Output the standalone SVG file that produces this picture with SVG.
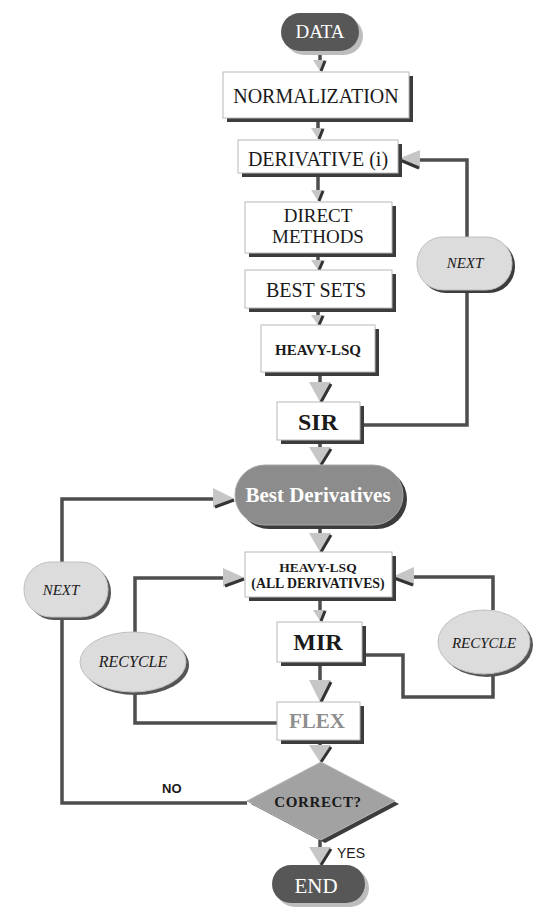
<svg xmlns="http://www.w3.org/2000/svg" width="535" height="908" viewBox="0 0 535 908">
<style>
.box{fill:#ffffff;stroke:#b8b8b8;stroke-width:1}
.sh{fill:#3c3c3c}
.t{font-family:"Liberation Serif","Times New Roman",serif;fill:#1a1a1a;text-anchor:middle}
.b{font-weight:bold}
.i{font-style:italic}
.w{fill:#ffffff}
.s{font-family:"Liberation Sans",Arial,sans-serif;fill:#1a1a1a;font-weight:bold}
.ln{fill:none;stroke:#4e4e4e;stroke-width:3.5;stroke-linejoin:miter}
.ah{fill:#c6c6c6}
.ad{fill:none;stroke:#333333;stroke-width:3}
.ov{fill:#dcdcdc;stroke:#c0c0c0;stroke-width:1}
</style>
<rect width="535" height="908" fill="#ffffff"/>

<g id="connectors">
  <!-- vertical shafts -->
  <path class="ln" d="M320 51V60 M318 118V128 M318 173V190 M318 253V260 M318 308V315 M320 372V382 M320 440V447 M320 525V533 M320 597V610 M320 662V680 M320 740V745 M320 840V847"/>
  <!-- down arrowheads small -->
  <path class="ah" d="M313 60H327L320 71Z M311 128H325L318 139Z M311 190H325L318 201Z M311 260H325L318 270Z M311 315H325L318 325Z M313 610H327L320 621Z"/>
  <path class="ad" d="M325 61L321 71 M323 129L319 139 M323 191L319 201 M323 261L319 270 M323 316L319 325 M325 611L321 621"/>
  <!-- down arrowheads large -->
  <path class="ah" d="M309 382H331L320 402Z M309 447H331L320 465Z M309 533H331L320 552Z M309 680H331L320 702Z M309 745H331L320 762Z M309 847H331L320 865Z"/>
  <path class="ad" d="M331 384L321 402 M331 449L321 465 M331 535L321 552 M331 682L321 702 M331 747L321 762 M331 849L321 865"/>

  <!-- SIR -> NEXT -> DERIVATIVE loop -->
  <path class="ln" d="M360 425H467V290 M467 237V160H420"/>
  <path class="ah" d="M420 150V169L398 159Z"/>
  <path class="ad" d="M419 168L400 160"/>

  <!-- CORRECT? NO -> NEXT -> Best Derivatives -->
  <path class="ln" d="M247 803H62V617 M62 562V499H214"/>
  <path class="ah" d="M213 488V508L235 499Z"/>
  <path class="ad" d="M215 507L234 500"/>

  <!-- FLEX -> RECYCLE -> HEAVY-LSQ (left) -->
  <path class="ln" d="M277 723H135V692 M135 632V578H224"/>
  <path class="ah" d="M223 568V587L245 578Z"/>
  <path class="ad" d="M225 586L244 579"/>

  <!-- MIR -> RECYCLE -> HEAVY-LSQ (right) -->
  <path class="ln" d="M362 655H403V697H493V674 M493 610V577H414"/>
  <path class="ah" d="M414 567V586L392 577Z"/>
  <path class="ad" d="M413 585L394 578"/>
</g>

<g id="data">
  <rect x="285" y="17" width="78" height="38" rx="19" fill="#bdbdbd"/>
  <rect x="281" y="13" width="78" height="38" rx="19" fill="#575757"/>
  <text class="t w" x="320" y="38" font-size="19">DATA</text>
</g>

<g id="normalization">
  <rect class="sh" x="227" y="76" width="186" height="46"/>
  <rect class="box" x="223" y="72" width="186" height="46"/>
  <text class="t" x="316" y="103" font-size="20">NORMALIZATION</text>
</g>

<g id="derivative">
  <rect class="sh" x="242" y="144" width="160" height="33"/>
  <rect class="box" x="238" y="140" width="160" height="33"/>
  <text class="t" x="318" y="166" font-size="20">DERIVATIVE (i)</text>
</g>

<g id="direct-methods">
  <rect class="sh" x="249" y="206" width="147" height="51"/>
  <rect class="box" x="245" y="202" width="147" height="51"/>
  <text class="t" x="318" y="222" font-size="19">DIRECT</text>
  <text class="t" x="318" y="243" font-size="19">METHODS</text>
</g>

<g id="best-sets">
  <rect class="sh" x="249" y="274" width="147" height="38"/>
  <rect class="box" x="245" y="270" width="147" height="38"/>
  <text class="t" x="316" y="297" font-size="20">BEST SETS</text>
</g>

<g id="heavy-lsq">
  <rect class="sh" x="265" y="329" width="114" height="47"/>
  <rect class="box" x="261" y="325" width="114" height="47"/>
  <text class="t b" x="318" y="355" font-size="15">HEAVY-LSQ</text>
</g>

<g id="sir">
  <rect class="sh" x="281" y="406" width="83" height="38"/>
  <rect class="box" x="277" y="402" width="83" height="38"/>
  <text class="t b" x="318" y="430" font-size="24">SIR</text>
</g>

<g id="next-right">
  <rect class="sh" x="420" y="240" width="95" height="53" rx="26" fill="#555555"/>
  <rect class="ov" x="417" y="237" width="95" height="53" rx="26"/>
  <text class="t i" x="465" y="268" font-size="15">NEXT</text>
</g>

<g id="best-derivatives">
  <rect x="239" y="469" width="168" height="60" rx="30" fill="#3c3c3c"/>
  <rect x="235" y="465" width="168" height="60" rx="30" fill="#8c8c8c" stroke="#a8a8a8"/>
  <text class="t b w" x="318" y="502" font-size="21">Best Derivatives</text>
</g>

<g id="heavy-lsq-all">
  <rect class="sh" x="249" y="556" width="147" height="45"/>
  <rect class="box" x="245" y="552" width="147" height="45"/>
  <text class="t b" x="318" y="572" font-size="13.5">HEAVY-LSQ</text>
  <text class="t b" x="318" y="588" font-size="13.8">(ALL DERIVATIVES)</text>
</g>

<g id="mir">
  <rect class="sh" x="281" y="626" width="85" height="40"/>
  <rect class="box" x="277" y="622" width="85" height="40"/>
  <text class="t b" x="318" y="650" font-size="24">MIR</text>
</g>

<g id="flex">
  <rect class="sh" x="281" y="706" width="83" height="38"/>
  <rect class="box" x="277" y="702" width="83" height="38"/>
  <text class="t b" x="317" y="728" font-size="21" fill="#8e8e8e" style="fill:#8e8e8e">FLEX</text>
</g>

<g id="next-left">
  <rect x="27" y="565" width="84" height="55" rx="27" fill="#555555"/>
  <rect class="ov" x="24" y="562" width="84" height="55" rx="27"/>
  <text class="t i" x="61" y="595" font-size="15">NEXT</text>
</g>

<g id="recycle-left">
  <ellipse cx="136" cy="665" rx="53" ry="30" fill="#555555"/>
  <ellipse class="ov" cx="133" cy="662" rx="53" ry="30"/>
  <text class="t i" x="133" y="667" font-size="16">RECYCLE</text>
</g>

<g id="recycle-right">
  <ellipse cx="487" cy="645" rx="46" ry="32" fill="#555555"/>
  <ellipse class="ov" cx="484" cy="642" rx="46" ry="32"/>
  <text class="t i" x="484" y="648" font-size="15">RECYCLE</text>
</g>

<g id="correct">
  <polygon points="325,765 399,804 325,843 251,804" fill="#3c3c3c"/>
  <polygon points="321,762 395,801 321,840 247,801" fill="#a2a2a2" stroke="#b5b5b5"/>
  <text class="t b" x="318" y="807" font-size="15" letter-spacing="0.6">CORRECT?</text>
</g>

<g id="labels">
  <text class="s" x="162" y="793" font-size="13">NO</text>
  <text class="s" x="337" y="858" font-size="14" font-weight="normal" style="font-weight:normal">YES</text>
</g>

<g id="end">
  <rect x="276" y="869" width="93" height="38" rx="19" fill="#bdbdbd"/>
  <rect x="272" y="865" width="93" height="38" rx="19" fill="#575757"/>
  <text class="t w" x="316" y="893" font-size="21">END</text>
</g>
</svg>
